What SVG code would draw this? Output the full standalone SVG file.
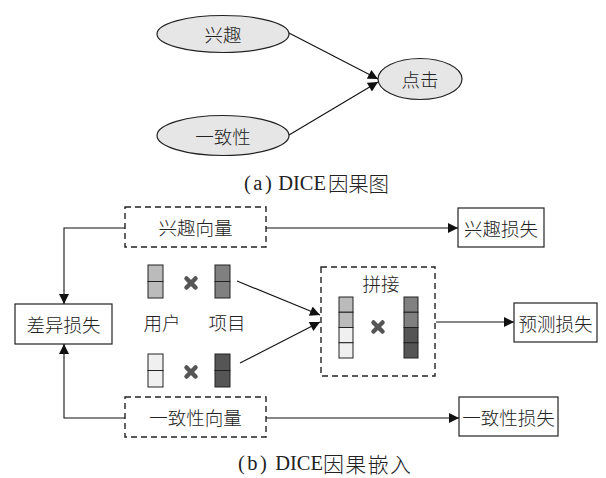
<svg xmlns="http://www.w3.org/2000/svg" width="606" height="478" viewBox="0 0 606 478">
  <style>
    .lbl { font-family: "Noto Sans CJK SC", "Liberation Serif", serif; font-size: 18.5px; font-weight: 300; fill: #222; text-anchor: middle; dominant-baseline: central; }
    .cap { font-family: "Liberation Serif", "Noto Sans CJK SC", serif; font-size: 20.5px; fill: #222; dominant-baseline: central; }
    .cjk { font-family: "Noto Sans CJK SC", sans-serif; font-weight: 300; }
    .ell { fill: #e6e6e6; stroke: #222; stroke-width: 1.2; }
    .box { fill: #fff; stroke: #222; stroke-width: 1.2; }
    .dash { fill: none; stroke: #222; stroke-width: 1.4; stroke-dasharray: 6 4; }
    .edge { fill: none; stroke: #111; stroke-width: 1.1; }
    .cell { stroke: #222; stroke-width: 1; }
    .mul { stroke: #555; stroke-width: 4.5; stroke-linecap: round; }
  </style>
  <defs>
    <marker id="arr" viewBox="0 0 10 10" refX="10" refY="5" markerWidth="11" markerHeight="10" markerUnits="userSpaceOnUse" orient="auto">
      <path d="M0,0 L10,5 L0,10 z" fill="#111"/>
    </marker>
    <g id="x">
      <line class="mul" x1="-4.5" y1="-4.5" x2="4.5" y2="4.5"/>
      <line class="mul" x1="-4.5" y1="4.5" x2="4.5" y2="-4.5"/>
    </g>
  </defs>
  <rect width="606" height="478" fill="#fff"/>

  <!-- (a) causal graph -->
  <g id="n-interest">
    <ellipse class="ell" cx="223" cy="34" rx="66" ry="18.5"/>
    <text class="lbl" x="223" y="34">兴趣</text>
  </g>
  <g id="n-conformity">
    <ellipse class="ell" cx="223" cy="135.5" rx="66" ry="20"/>
    <text class="lbl" x="223" y="135.5">一致性</text>
  </g>
  <g id="n-click">
    <ellipse class="ell" cx="420" cy="79" rx="42" ry="20.5"/>
    <text class="lbl" x="420" y="79">点击</text>
  </g>
  <text class="cap" x="244" y="183"><tspan letter-spacing="2.5">(a)</tspan><tspan x="273"> DICE</tspan><tspan class="cjk" x="328" style="font-size:20.5px" textLength="61" lengthAdjust="spacing">因果图</tspan></text>

  <!-- (b) causal embedding -->
  <g id="b-interest-vec">
    <rect class="dash" x="125" y="207" width="141" height="40"/>
    <text class="lbl" x="195.5" y="227">兴趣向量</text>
  </g>
  <g id="b-conformity-vec">
    <rect class="dash" x="125" y="397" width="141" height="40"/>
    <text class="lbl" x="195.5" y="417">一致性向量</text>
  </g>
  <g id="b-discrepancy-loss">
    <rect class="box" x="15" y="304" width="97" height="40"/>
    <text class="lbl" x="63.5" y="324">差异损失</text>
  </g>
  <g id="b-interest-loss">
    <rect class="box" x="458" y="208" width="86" height="39"/>
    <text class="lbl" x="501" y="227.5">兴趣损失</text>
  </g>
  <g id="b-conformity-loss">
    <rect class="box" x="459" y="397" width="99" height="39"/>
    <text class="lbl" x="508.5" y="416.5">一致性损失</text>
  </g>
  <g id="b-predict-loss">
    <rect class="box" x="514" y="303" width="83" height="39"/>
    <text class="lbl" x="555.5" y="322.5">预测损失</text>
  </g>

  <g id="b-user-item">
    <!-- interest pair -->
    <rect class="cell" x="148" y="265" width="15" height="16.5" fill="#bbb"/>
    <rect class="cell" x="148" y="281.5" width="15" height="16.5" fill="#bbb"/>
    <use href="#x" x="191" y="283"/>
    <rect class="cell" x="215" y="265" width="15" height="16.5" fill="#808080"/>
    <rect class="cell" x="215" y="281.5" width="15" height="16.5" fill="#808080"/>
    <text class="lbl" x="162" y="322">用户</text>
    <text class="lbl" x="227" y="322">项目</text>
    <!-- conformity pair -->
    <rect class="cell" x="148" y="354" width="15" height="16.5" fill="#f0f0f0"/>
    <rect class="cell" x="148" y="370.5" width="15" height="16.5" fill="#f0f0f0"/>
    <use href="#x" x="191" y="372"/>
    <rect class="cell" x="215" y="354" width="15" height="16.5" fill="#555"/>
    <rect class="cell" x="215" y="370.5" width="15" height="16.5" fill="#555"/>
  </g>

  <g id="b-concat">
    <rect class="dash" x="321" y="267" width="114" height="109"/>
    <text class="lbl" x="381" y="283">拼接</text>
    <rect class="cell" x="339" y="297" width="14" height="15.25" fill="#bbb"/>
    <rect class="cell" x="339" y="312.25" width="14" height="15.25" fill="#bbb"/>
    <rect class="cell" x="339" y="327.5" width="14" height="15.25" fill="#f0f0f0"/>
    <rect class="cell" x="339" y="342.75" width="14" height="15.25" fill="#f0f0f0"/>
    <use href="#x" x="378" y="327"/>
    <rect class="cell" x="404" y="297" width="14" height="15.25" fill="#808080"/>
    <rect class="cell" x="404" y="312.25" width="14" height="15.25" fill="#808080"/>
    <rect class="cell" x="404" y="327.5" width="14" height="15.25" fill="#555"/>
    <rect class="cell" x="404" y="342.75" width="14" height="15.25" fill="#555"/>
  </g>

  <g id="connectors">
    <line class="edge" x1="289" y1="33" x2="378" y2="79" marker-end="url(#arr)"/>
    <line class="edge" x1="289" y1="135" x2="378" y2="82" marker-end="url(#arr)"/>
    <polyline class="edge" points="125,228 64,228 64,304" marker-end="url(#arr)"/>
    <polyline class="edge" points="125,418 64,418 64,344" marker-end="url(#arr)"/>
    <line class="edge" x1="266" y1="228" x2="458" y2="228" marker-end="url(#arr)"/>
    <line class="edge" x1="266" y1="418" x2="459" y2="418" marker-end="url(#arr)"/>
    <line class="edge" x1="237" y1="281" x2="320" y2="315" marker-end="url(#arr)"/>
    <line class="edge" x1="240" y1="363" x2="320" y2="322" marker-end="url(#arr)"/>
    <line class="edge" x1="436" y1="322" x2="514" y2="322" marker-end="url(#arr)"/>
  </g>
  <text class="cap" x="238" y="463"><tspan letter-spacing="2.5">(b)</tspan><tspan x="270"> DICE</tspan><tspan class="cjk" x="323" style="font-size:21px" textLength="88" lengthAdjust="spacing">因果嵌入</tspan></text>
</svg>
